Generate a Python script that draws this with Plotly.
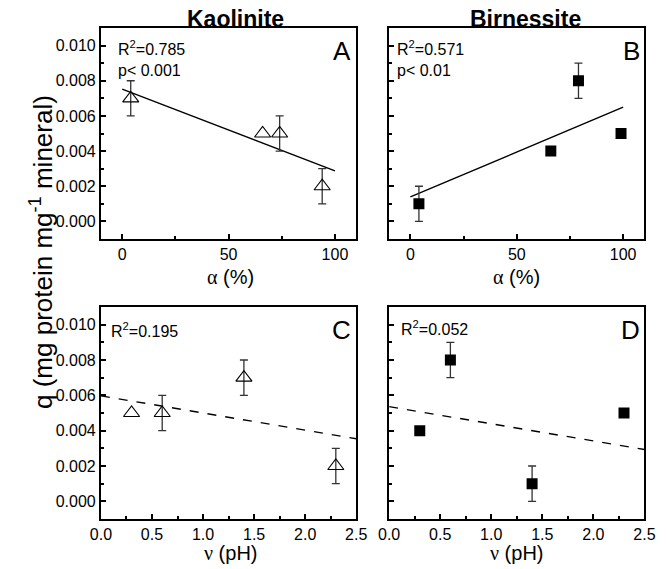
import plotly.graph_objects as go

W, H = 668, 569

# ---------------- data ----------------
kao_alpha = [4, 66, 74, 94]
kao_q_alpha = [0.007, 0.005, 0.005, 0.002]
kao_err_alpha = [0.001, 0, 0.001, 0.001]

bir_alpha = [4, 66, 79, 99]
bir_q_alpha = [0.001, 0.004, 0.008, 0.005]
bir_err_alpha = [0.001, 0, 0.001, 0]

kao_nu = [0.3, 0.6, 1.4, 2.3]
kao_q_nu = [0.005, 0.005, 0.007, 0.002]
kao_err_nu = [0, 0.001, 0.001, 0.001]

bir_nu = [0.3, 0.6, 1.4, 2.3]
bir_q_nu = [0.004, 0.008, 0.001, 0.005]
bir_err_nu = [0, 0.001, 0.001, 0]

# linear fits (intercept, slope)
fit_A = (0.00752, -0.0000464)
fit_B = (0.00139, 0.0000511)
fit_C = (0.00597, -0.00097)
fit_D = (0.00536, -0.00097)
fit_x_alpha = [0, 100]
fit_x_nu = [0, 2.5]

stats_text = ["R<sup>2</sup>=0.785<br>p< 0.001", "R<sup>2</sup>=0.571<br>p< 0.01",
              "R<sup>2</sup>=0.195", "R<sup>2</sup>=0.052"]
panel_letters = ["A", "B", "C", "D"]
col_titles = ["Kaolinite", "Birnessite"]

# ---------------- layout helpers ----------------
def px(x):
    return x / W

def py(y):
    return 1 - y / H

FONT = "Arial, Liberation Sans, sans-serif"
SERIF = "Liberation Serif, Times New Roman, serif"

fig = go.Figure()

panels = [
    ("x", "y", kao_alpha, kao_q_alpha, kao_err_alpha, "triangle-up-open", fit_A, fit_x_alpha, "solid"),
    ("x2", "y2", bir_alpha, bir_q_alpha, bir_err_alpha, "square", fit_B, fit_x_alpha, "solid"),
    ("x3", "y3", kao_nu, kao_q_nu, kao_err_nu, "triangle-up-open", fit_C, fit_x_nu, "dash"),
    ("x4", "y4", bir_nu, bir_q_nu, bir_err_nu, "square", fit_D, fit_x_nu, "dash"),
]

for xa, ya, xs, ys, es, sym, fit, fx, dash in panels:
    fy = [fit[0] + fit[1] * v for v in fx]
    fig.add_trace(go.Scatter(x=fx, y=fy, mode="lines", xaxis=xa, yaxis=ya,
                             line=dict(color="black", width=1.4, dash=dash),
                             showlegend=False, hoverinfo="skip"))
    ex = [x for x, e in zip(xs, es) if e > 0]
    ey = [y for y, e in zip(ys, es) if e > 0]
    ee = [e for e in es if e > 0]
    fig.add_trace(go.Scatter(x=ex, y=ey, mode="markers", xaxis=xa, yaxis=ya,
                             marker=dict(size=1, color="rgba(0,0,0,0)"),
                             error_y=dict(type="data", array=ee, color="#333",
                                          thickness=1.3, width=4),
                             showlegend=False, hoverinfo="skip"))
    if sym == "square":
        mk = dict(symbol="square", size=11, color="black")
    else:
        mk = dict(symbol="triangle-up-open", size=14, color="black", line=dict(width=1.1))
    fig.add_trace(go.Scatter(x=xs, y=ys, mode="markers", xaxis=xa, yaxis=ya,
                             marker=mk, showlegend=False))

# panel frames in px: (left, right, top, bottom)
boxes = [(93, 357, 28, 239), (391, 655, 28, 239), (93, 357, 307, 519), (391, 655, 307, 519)]

def xaxis_cfg(box, alpha):
    l, r, t, b = box
    cfg = dict(domain=[px(l), px(r)], showline=True, mirror=True, linecolor="black",
               linewidth=2, ticks="inside", ticklen=5, tickwidth=1.5, tickcolor="black",
               showgrid=False, zeroline=False,
               tickfont=dict(family=FONT, size=16, color="black"))
    if alpha:
        cfg.update(range=[-10, 110], tickvals=[0, 50, 100],
                   minor=dict(tickvals=[25, 75], ticks="inside", ticklen=3,
                              tickwidth=1.5, tickcolor="black", showgrid=False))
    else:
        cfg.update(range=[0, 2.5], tickvals=[0, 0.5, 1.0, 1.5, 2.0, 2.5],
                   ticktext=["0.0", "0.5", "1.0", "1.5", "2.0", "2.5"],
                   minor=dict(tickvals=[0.25, 0.75, 1.25, 1.75, 2.25], ticks="inside",
                              ticklen=3, tickwidth=1.5, tickcolor="black", showgrid=False))
    return cfg

def yaxis_cfg(box, labels):
    l, r, t, b = box
    return dict(domain=[py(b), py(t)], range=[-0.001, 0.011],
                tickvals=[0, 0.002, 0.004, 0.006, 0.008, 0.010],
                ticktext=["0.000", "0.002", "0.004", "0.006", "0.008", "0.010"],
                showticklabels=labels,
                minor=dict(tickvals=[0.001, 0.003, 0.005, 0.007, 0.009], ticks="inside",
                           ticklen=3, tickwidth=1.5, tickcolor="black", showgrid=False),
                showline=True, mirror=True, linecolor="black", linewidth=2,
                ticks="inside", ticklen=5, tickwidth=1.5, tickcolor="black",
                showgrid=False, zeroline=False,
                tickfont=dict(family=FONT, size=16, color="black"))

fig.update_layout(
    width=W, height=H, margin=dict(l=0, r=0, t=0, b=0),
    paper_bgcolor="white", plot_bgcolor="white",
    xaxis=dict(xaxis_cfg(boxes[0], True), anchor="y"), yaxis=dict(yaxis_cfg(boxes[0], True), anchor="x"),
    xaxis2=dict(xaxis_cfg(boxes[1], True), anchor="y2"), yaxis2=dict(yaxis_cfg(boxes[1], False), anchor="x2"),
    xaxis3=dict(xaxis_cfg(boxes[2], False), anchor="y3"), yaxis3=dict(yaxis_cfg(boxes[2], True), anchor="x3"),
    xaxis4=dict(xaxis_cfg(boxes[3], False), anchor="y4"), yaxis4=dict(yaxis_cfg(boxes[3], False), anchor="x4"),
)

ann = []
stat_dx = [16, 6, 8, 10]
stat_dy = [8, 8, 11, 9]
for i, box in enumerate(boxes):
    l, r, t, b = box
    ann.append(dict(text=stats_text[i], x=px(l + stat_dx[i]), y=py(t + stat_dy[i]),
                    xref="paper", yref="paper", xanchor="left", yanchor="top",
                    align="left", showarrow=False,
                    font=dict(family=FONT, size=16, color="black")))
    ann.append(dict(text=panel_letters[i], x=px(r - 3), y=py(t + 6),
                    xref="paper", yref="paper", xanchor="right", yanchor="top",
                    showarrow=False, font=dict(family=FONT, size=26, color="black")))

for i, cx in enumerate([232, 532]):
    ann.append(dict(text="<b>" + col_titles[i] + "</b>", x=px(cx), y=py(19),
                    xref="paper", yref="paper", xanchor="center", yanchor="middle",
                    showarrow=False, font=dict(family=FONT, size=23, color="black")))

alpha_t = '<span style="font-family:%s">α</span> (%%)' % SERIF
nu_t = '<span style="font-family:%s">ν</span> (pH)' % SERIF
for cx, cy, t in [(227, 277, alpha_t), (523, 277, alpha_t), (227, 553, nu_t), (523, 553, nu_t)]:
    ann.append(dict(text=t, x=px(cx), y=py(cy), xref="paper", yref="paper",
                    xanchor="center", yanchor="middle", showarrow=False,
                    font=dict(family=FONT, size=20, color="black")))

ann.append(dict(text="q (mg protein mg<sup>-1</sup> mineral)", x=px(31), y=py(252),
                xref="paper", yref="paper", xanchor="center", yanchor="middle",
                textangle=-90, showarrow=False,
                font=dict(family=FONT, size=26, color="black")))

fig.update_layout(annotations=ann)
fig.write_html("out.html", config={"displayModeBar": False},
               post_script="document.body.style.margin='0px';document.body.style.overflow='hidden';")
